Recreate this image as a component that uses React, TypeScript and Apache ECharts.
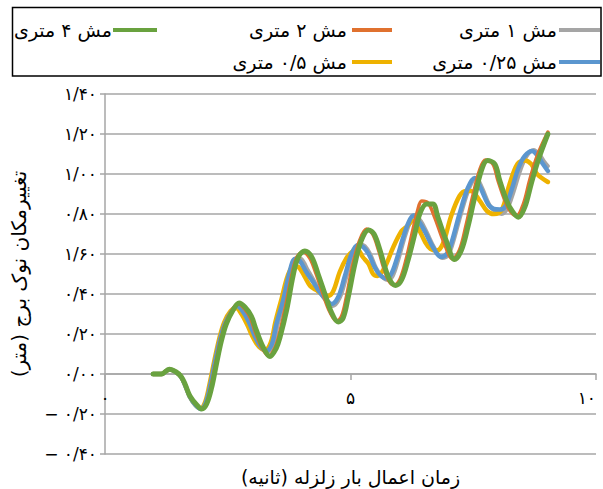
import React, { useEffect, useRef } from 'react';
import * as echarts from 'echarts';

// Tip displacement of the tower for five mesh sizes (time in s, displacement in m)
const seriesNames = ['مش ۱ متری', 'مش ۲ متری', 'مش ۴ متری', 'مش ۰/۲۵ متری', 'مش ۰/۵ متری'];

const tMesh1 = [0.98, 1.15, 1.31, 1.45, 1.55, 1.63, 1.73, 1.86, 1.96, 2.06, 2.15, 2.25, 2.35, 2.45, 2.58, 2.70, 2.82, 2.95, 3.07, 3.19, 3.31, 3.43, 3.52, 3.66, 3.78, 3.90, 4.00, 4.13, 4.27, 4.40, 4.54, 4.64, 4.78, 4.91, 5.05, 5.18, 5.29, 5.40, 5.52, 5.63, 5.76, 5.86, 5.96, 6.10, 6.20, 6.31, 6.43, 6.55, 6.71, 6.87, 6.99, 7.08, 7.25, 7.42, 7.56, 7.68, 7.83, 7.96, 8.08, 8.20, 8.32, 8.46, 8.59, 8.73, 8.84, 8.95, 9.02];
const yMesh1 = [0.00, 0.00, 0.022, 0.008, -0.015, -0.055, -0.115, -0.158, -0.175, -0.145, -0.06, 0.06, 0.17, 0.25, 0.315, 0.345, 0.32, 0.265, 0.19, 0.135, 0.11, 0.15, 0.25, 0.37, 0.50, 0.58, 0.575, 0.52, 0.46, 0.40, 0.355, 0.34, 0.38, 0.48, 0.60, 0.65, 0.64, 0.60, 0.53, 0.49, 0.47, 0.49, 0.56, 0.68, 0.75, 0.795, 0.765, 0.71, 0.63, 0.58, 0.595, 0.65, 0.80, 0.93, 0.98, 0.93, 0.845, 0.81, 0.80, 0.83, 0.91, 1.02, 1.09, 1.12, 1.10, 1.06, 1.04];

const tMesh2 = [0.98, 1.15, 1.31, 1.45, 1.55, 1.63, 1.73, 1.87, 1.96, 2.06, 2.15, 2.25, 2.35, 2.45, 2.59, 2.71, 2.83, 2.96, 3.06, 3.20, 3.34, 3.46, 3.54, 3.67, 3.80, 3.90, 4.03, 4.17, 4.30, 4.44, 4.58, 4.72, 4.82, 4.92, 5.05, 5.19, 5.33, 5.45, 5.57, 5.67, 5.77, 5.89, 6.01, 6.14, 6.27, 6.37, 6.45, 6.58, 6.72, 6.90, 7.08, 7.22, 7.35, 7.49, 7.63, 7.75, 7.90, 8.00, 8.14, 8.25, 8.38, 8.52, 8.65, 8.80, 9.02];
const yMesh2 = [0.00, 0.00, 0.024, 0.010, -0.012, -0.05, -0.11, -0.155, -0.172, -0.15, -0.07, 0.05, 0.165, 0.25, 0.32, 0.35, 0.33, 0.28, 0.21, 0.13, 0.09, 0.13, 0.19, 0.33, 0.49, 0.58, 0.61, 0.58, 0.50, 0.40, 0.31, 0.265, 0.29, 0.39, 0.55, 0.67, 0.725, 0.70, 0.62, 0.535, 0.47, 0.445, 0.475, 0.58, 0.72, 0.82, 0.865, 0.855, 0.78, 0.66, 0.575, 0.62, 0.74, 0.89, 1.02, 1.07, 1.05, 0.97, 0.87, 0.815, 0.79, 0.85, 0.97, 1.09, 1.21];

const tMesh4 = [0.98, 1.15, 1.31, 1.45, 1.55, 1.63, 1.73, 1.87, 1.97, 2.07, 2.17, 2.27, 2.37, 2.47, 2.61, 2.73, 2.85, 2.98, 3.08, 3.22, 3.36, 3.49, 3.56, 3.70, 3.83, 3.93, 4.07, 4.21, 4.34, 4.48, 4.61, 4.75, 4.85, 4.95, 5.09, 5.22, 5.37, 5.48, 5.60, 5.70, 5.80, 5.92, 6.04, 6.17, 6.31, 6.41, 6.55, 6.68, 6.78, 6.95, 7.12, 7.26, 7.39, 7.53, 7.67, 7.79, 7.94, 8.04, 8.18, 8.28, 8.42, 8.55, 8.68, 8.82, 9.02];
const yMesh4 = [0.00, 0.00, 0.024, 0.010, -0.012, -0.05, -0.11, -0.155, -0.175, -0.15, -0.07, 0.05, 0.165, 0.25, 0.32, 0.355, 0.335, 0.29, 0.22, 0.135, 0.088, 0.13, 0.18, 0.32, 0.49, 0.58, 0.615, 0.585, 0.50, 0.40, 0.31, 0.26, 0.28, 0.38, 0.55, 0.667, 0.72, 0.70, 0.62, 0.535, 0.47, 0.443, 0.47, 0.567, 0.70, 0.80, 0.85, 0.85, 0.784, 0.667, 0.572, 0.62, 0.734, 0.884, 1.02, 1.067, 1.05, 0.967, 0.867, 0.82, 0.784, 0.834, 0.95, 1.067, 1.20];

const tMesh025 = [0.98, 1.15, 1.31, 1.45, 1.55, 1.63, 1.73, 1.85, 1.95, 2.05, 2.14, 2.24, 2.34, 2.44, 2.57, 2.69, 2.80, 2.93, 3.05, 3.16, 3.28, 3.40, 3.49, 3.63, 3.75, 3.87, 3.97, 4.10, 4.24, 4.37, 4.51, 4.61, 4.75, 4.88, 5.02, 5.15, 5.26, 5.37, 5.49, 5.60, 5.73, 5.83, 5.93, 6.07, 6.17, 6.28, 6.40, 6.52, 6.68, 6.84, 6.96, 7.05, 7.22, 7.39, 7.53, 7.65, 7.80, 7.92, 8.04, 8.16, 8.28, 8.42, 8.55, 8.70, 8.80, 8.92, 9.02];
const yMesh025 = [0.00, 0.00, 0.022, 0.008, -0.015, -0.055, -0.115, -0.158, -0.175, -0.145, -0.06, 0.06, 0.17, 0.25, 0.31, 0.34, 0.315, 0.26, 0.19, 0.14, 0.115, 0.15, 0.25, 0.37, 0.50, 0.575, 0.565, 0.51, 0.46, 0.41, 0.37, 0.35, 0.385, 0.485, 0.60, 0.645, 0.635, 0.60, 0.535, 0.495, 0.478, 0.50, 0.565, 0.68, 0.75, 0.792, 0.76, 0.71, 0.634, 0.586, 0.60, 0.65, 0.80, 0.93, 0.98, 0.93, 0.85, 0.825, 0.822, 0.84, 0.92, 1.03, 1.09, 1.115, 1.095, 1.05, 1.015];

const tMesh05 = [0.98, 1.15, 1.31, 1.45, 1.55, 1.63, 1.73, 1.85, 1.94, 2.04, 2.13, 2.23, 2.33, 2.43, 2.56, 2.67, 2.78, 2.90, 3.02, 3.14, 3.26, 3.38, 3.47, 3.60, 3.72, 3.84, 3.94, 4.06, 4.18, 4.30, 4.42, 4.54, 4.65, 4.78, 4.92, 5.05, 5.15, 5.25, 5.37, 5.46, 5.55, 5.70, 5.87, 6.04, 6.14, 6.27, 6.40, 6.52, 6.63, 6.75, 6.88, 7.05, 7.22, 7.35, 7.45, 7.63, 7.78, 7.92, 8.08, 8.24, 8.40, 8.55, 8.68, 8.80, 9.02];
const yMesh05 = [0.00, 0.00, 0.022, 0.008, -0.015, -0.055, -0.115, -0.158, -0.172, -0.14, -0.05, 0.07, 0.18, 0.26, 0.315, 0.33, 0.30, 0.245, 0.18, 0.135, 0.12, 0.16, 0.26, 0.38, 0.49, 0.54, 0.535, 0.49, 0.44, 0.42, 0.40, 0.39, 0.415, 0.51, 0.58, 0.615, 0.62, 0.585, 0.55, 0.50, 0.49, 0.535, 0.634, 0.715, 0.735, 0.765, 0.72, 0.66, 0.625, 0.617, 0.65, 0.79, 0.89, 0.915, 0.915, 0.867, 0.815, 0.80, 0.82, 0.95, 1.05, 1.068, 1.05, 1.00, 0.96];

const xTickValues = [0, 5, 10];
const xTickLabels = ['۰', '۵', '۱۰'];
const yTickValues = [-0.4, -0.2, 0, 0.2, 0.4, 0.6, 0.8, 1.0, 1.2, 1.4];
const yTickLabels = ['− ۰/۴۰', '− ۰/۲۰', '۰/۰۰', '۰/۲۰', '۰/۴۰', '۱/۶۰', '۰/۸۰', '۱/۰۰', '۱/۲۰', '۱/۴۰'];

const xTitle = 'زمان اعمال بار زلزله (ثانیه)';
const yTitle = 'تغییرمکان نوک برج (متر)';

const FONT = '"DejaVu Sans", "Noto Sans", sans-serif';
const GRID_GRAY = '#a6a6a6';

const seriesColors = ['#a5a5a5', '#e0712f', '#69a23f', '#5b96cf', '#eeb200'];
const seriesWidths = [4, 3.5, 5, 4.5, 4.5];
// drawing order: bottom first
const drawOrder = [0, 4, 3, 1, 2];
const seriesT = [tMesh1, tMesh2, tMesh4, tMesh025, tMesh05];
const seriesY = [yMesh1, yMesh2, yMesh4, yMesh025, yMesh05];

// plot box
const GRID = { left: 105, right: 7, top: 94, bottom: 35 };
const Y_MIN = -0.4;
const Y_MAX = 1.4;
const PLOT_H = 489 - GRID.top - GRID.bottom;
// time axis sits on the zero line of the displacement axis
const X_AXIS_OFFSET = -PLOT_H * (0 - Y_MIN) / (Y_MAX - Y_MIN);

// legend slots: [series index, icon x0, icon x1, text right edge, row y]
const legendSlots: [number, number, number, number, number][] = [
  [0, 559, 600, 557, 30],
  [1, 352, 392, 347, 30],
  [2, 113, 157, 112, 30],
  [3, 559, 600, 557, 62],
  [4, 352, 392, 347, 62],
];

function pickLabel(values: number[], labels: string[], v: number) {
  const i = values.findIndex((t) => Math.abs(t - v) < 1e-6);
  return i >= 0 ? labels[i] : '';
}

export default function App() {
  const ref = useRef<HTMLDivElement>(null);

  useEffect(() => {
    if (!ref.current) return;
    const chart = echarts.init(ref.current, undefined, { renderer: 'svg' });

    const series = drawOrder.map((k) => ({
      name: seriesNames[k],
      type: 'line',
      data: seriesT[k].map((t, i) => [t, seriesY[k][i]]),
      showSymbol: false,
      smooth: 0.35,
      lineStyle: { color: seriesColors[k], width: seriesWidths[k], cap: 'round', join: 'round' },
      itemStyle: { color: seriesColors[k] },
      z: 2,
    }));

    const legendGraphics: any[] = [
      {
        type: 'rect',
        shape: { x: 12.5, y: 7.5, width: 588.5, height: 68.5 },
        style: { fill: '#fff', stroke: '#000', lineWidth: 1.5 },
        z: 10,
      },
    ];
    legendSlots.forEach(([k, x0, x1, tx, y]) => {
      legendGraphics.push({
        type: 'line',
        shape: { x1: x0, y1: y, x2: x1, y2: y },
        style: { stroke: seriesColors[k], lineWidth: 4 },
        z: 11,
      });
      legendGraphics.push({
        type: 'text',
        x: tx,
        y: y,
        style: {
          text: seriesNames[k],
          fill: '#000',
          font: `19px ${FONT}`,
          align: 'right',
          verticalAlign: 'middle',
        },
        z: 11,
      });
    });

    chart.setOption({
      animation: false,
      backgroundColor: '#fff',
      grid: { ...GRID, containLabel: false, outerBoundsMode: 'none' },
      xAxis: {
        type: 'value',
        min: 0,
        max: 10,
        interval: 5,
        offset: X_AXIS_OFFSET,
        name: xTitle,
        nameLocation: 'middle',
        nameGap: 93,
        nameTextStyle: { fontFamily: FONT, fontSize: 19, color: '#000' },
        axisLine: { show: true, onZero: false, lineStyle: { color: GRID_GRAY, width: 1.5 } },
        axisTick: { show: true, length: 6, lineStyle: { color: GRID_GRAY, width: 1.5 } },
        axisLabel: {
          margin: 15,
          fontFamily: FONT,
          fontSize: 17,
          color: '#000',
          alignMaxLabel: 'right',
          formatter: (v: number) => pickLabel(xTickValues, xTickLabels, v),
        },
        splitLine: { show: false },
      },
      yAxis: {
        type: 'value',
        min: Y_MIN,
        max: Y_MAX,
        interval: 0.2,
        name: yTitle,
        nameLocation: 'middle',
        nameGap: 76,
        nameTextStyle: { fontFamily: FONT, fontSize: 20, color: '#000' },
        axisLine: { show: true, lineStyle: { color: GRID_GRAY, width: 1.5 } },
        axisTick: { show: true, length: 5, lineStyle: { color: GRID_GRAY, width: 1.5 } },
        axisLabel: {
          margin: 8,
          fontFamily: FONT,
          fontSize: 17,
          color: '#000',
          formatter: (v: number) => pickLabel(yTickValues, yTickLabels, v),
        },
        splitLine: { show: true, lineStyle: { color: GRID_GRAY, width: 1.5 } },
      },
      series,
      graphic: legendGraphics,
    });

    return () => chart.dispose();
  }, []);

  return (
    <div
      ref={ref}
      style={{ position: 'fixed', left: 0, top: 0, width: 603, height: 489, background: '#fff' }}
    />
  );
}
